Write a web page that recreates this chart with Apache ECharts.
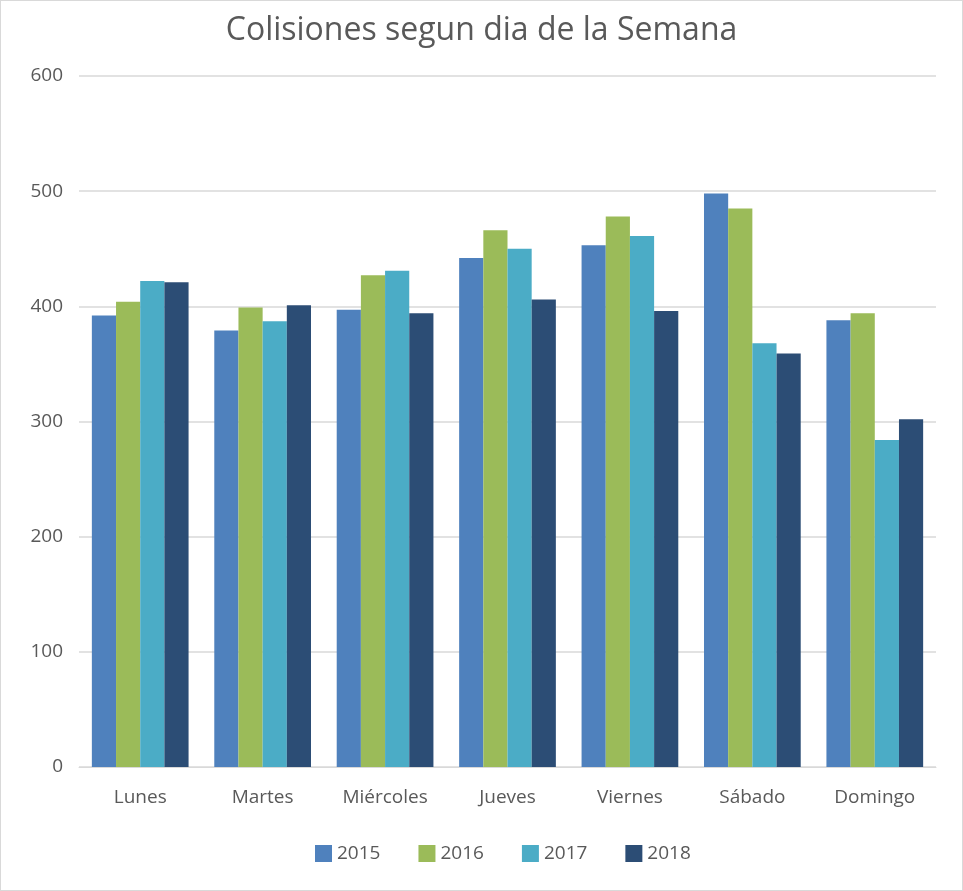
<!DOCTYPE html>
<html>
<head>
<meta charset="utf-8">
<script src="https://cdn.jsdelivr.net/npm/echarts@6/dist/echarts.min.js"></script>
<style>
  html, body { margin: 0; padding: 0; background: #fff; }
  #chart { width: 961px; height: 889px; border: 1px solid #d9d9d9; }
</style>
</head>
<body>
<div id="chart"></div>
<script>
// categorias (dias) y años
const dias = ['Lunes', 'Martes', 'Miércoles', 'Jueves', 'Viernes', 'Sábado', 'Domingo'];
const anios = ['2015', '2016', '2017', '2018'];
// colisiones por año
const v2015 = [392, 379, 397, 442, 453, 498, 388];
const v2016 = [404, 399, 427, 466, 478, 485, 394];
const v2017 = [422, 387, 431, 450, 461, 368, 284];
const v2018 = [421, 401, 394, 406, 396, 359, 302];
const colores = ['#4F81BD', '#9BBB59', '#4BACC6', '#2C4D75'];

const valores = [v2015, v2016, v2017, v2018];
const series = anios.map((a, i) => ({
  name: a,
  type: 'bar',
  data: valores[i],
  barGap: '0%',
  barCategoryGap: '21%',
  itemStyle: { color: colores[i] }
}));

const option = {
  animation: false,
  textStyle: { fontFamily: 'Open Sans' },
  title: {
    text: 'Colisiones segun dia de la Semana',
    left: 'center',
    top: 9,
    textStyle: { fontSize: 32, fontWeight: 'normal', color: '#595959', fontFamily: 'Open Sans' }
  },
  legend: {
    data: anios,
    left: 309,
    bottom: 22,
    itemWidth: 17,
    itemHeight: 17,
    itemGap: 38,
    icon: 'rect',
    textStyle: { fontSize: 19, color: '#595959' }
  },
  grid: { left: 78, right: 26, top: 75, bottom: 123 },
  xAxis: {
    type: 'category',
    data: dias,
    axisLine: { lineStyle: { color: '#d9d9d9', width: 1 } },
    axisTick: { show: false },
    axisLabel: { fontSize: 19, color: '#595959', margin: 21 }
  },
  yAxis: {
    type: 'value',
    min: 0,
    max: 600,
    interval: 100,
    axisLine: { show: false },
    axisTick: { show: false },
    axisLabel: { fontSize: 19, color: '#595959', margin: 16 },
    splitLine: { lineStyle: { color: '#d9d9d9', width: 1.5 } }
  },
  series: series
};

const chart = echarts.init(document.getElementById('chart'));
chart.setOption(option);
</script>
</body>
</html>
